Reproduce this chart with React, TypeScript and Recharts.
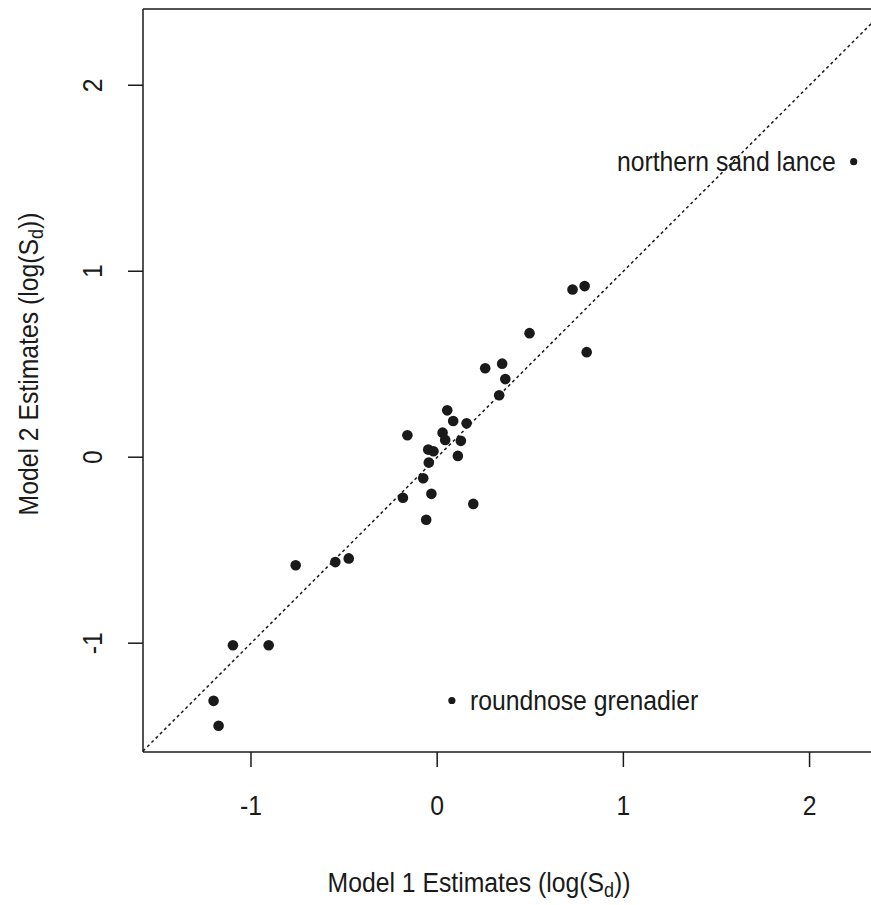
import { ScatterChart, Scatter, XAxis, YAxis, ReferenceLine, Label } from 'recharts';

// Model 1 vs Model 2 estimates, log(Sd)
const model1 = [
  0.727, 0.792, 0.496, 0.803, 0.258, 0.349, 0.366, 0.333, 0.054, 0.086, 0.158, -0.16,
  0.029, 0.043, 0.127, -0.048, -0.02, 0.111, -0.045, -0.075, -0.184, -0.031, 0.194, -0.059,
  -0.76, -0.547, -0.475, -1.097, -0.905, -1.201, -1.174,
];
const model2 = [
  0.902, 0.92, 0.667, 0.565, 0.478, 0.503, 0.42, 0.333, 0.252, 0.195, 0.182, 0.118,
  0.132, 0.093, 0.088, 0.041, 0.032, 0.007, -0.029, -0.113, -0.218, -0.197, -0.251, -0.336,
  -0.581, -0.564, -0.544, -1.011, -1.011, -1.31, -1.444,
];

const labeledNames = ['northern sand lance', 'roundnose grenadier'];
const labeledModel1 = [2.237, 0.079];
const labeledModel2 = [1.589, -1.308];

const xTicks = [-1, 0, 1, 2];
const yTicks = [-1, 0, 1, 2];
const X_MIN = -1.58;
const X_MAX = 2.33;
const Y_MIN = -1.585;
const Y_MAX = 2.41;

const FONT = "'Liberation Sans', Arial, Helvetica, sans-serif";
const INK = '#1a1a1a';
const SQUEEZE = 0.9; // the scanned text is a bit narrower than Helvetica

const points = model1.map((x, i) => ({ x, y: model2[i] }));
const labeled = labeledNames.map((name, i) => ({ name, x: labeledModel1[i], y: labeledModel2[i] }));

const Dot = (props: any) => <circle cx={props.cx} cy={props.cy} r={5.3} fill={INK} />;

const LabeledDot = (props: any) => {
  const { cx, cy, payload } = props;
  const left = payload.x > 1;
  const tx = left ? cx - 18 : cx + 18;
  return (
    <g>
      <circle cx={cx} cy={cy} r={3.6} fill={INK} />
      <g transform={`translate(${tx}, ${cy}) scale(${SQUEEZE}, 1)`}>
        <text x={0} y={0} dy="0.35em" textAnchor={left ? 'end' : 'start'} fontFamily={FONT} fontSize={27.5} fill={INK}>
          {payload.name}
        </text>
      </g>
    </g>
  );
};

const XTick = (props: any) => (
  <g transform={`translate(${props.x}, 805) scale(${SQUEEZE}, 1)`}>
    <text x={0} y={0} dy="0.35em" textAnchor="middle" fontFamily={FONT} fontSize={27.5} fill={INK}>
      {props.payload.value}
    </text>
  </g>
);

const YTick = (props: any) => (
  <g transform={`translate(92, ${props.y}) rotate(-90) scale(${SQUEEZE}, 1)`}>
    <text x={0} y={0} dy="0.35em" textAnchor="middle" fontFamily={FONT} fontSize={27.5} fill={INK}>
      {props.payload.value}
    </text>
  </g>
);

const AxisTitle = ({ n }: { n: number }) => (
  <text x={0} y={0} dy="0.35em" textAnchor="middle" fontFamily={FONT} fontSize={27.5} fill={INK}>
    {`Model ${n} Estimates (log(S`}
    <tspan dy="5" fontSize={20}>d</tspan>
    <tspan dy="-5">))</tspan>
  </text>
);

export default function App() {
  return (
    <div style={{ position: 'absolute', left: 0, top: 0, background: '#fff' }}>
      <ScatterChart width={871} height={905} margin={{ top: 9, right: 0, bottom: 0, left: 0 }}>
        <XAxis
          type="number"
          dataKey="x"
          domain={[X_MIN, X_MAX]}
          ticks={xTicks}
          allowDataOverflow
          height={153}
          stroke={INK}
          strokeWidth={1.5}
          tickSize={15}
          tick={<XTick />}
        >
          <Label
            content={() => (
              <g transform={`translate(479, 882) scale(${SQUEEZE}, 1)`}>
                <AxisTitle n={1} />
              </g>
            )}
          />
        </XAxis>
        <YAxis
          type="number"
          dataKey="y"
          domain={[Y_MIN, Y_MAX]}
          ticks={yTicks}
          allowDataOverflow
          width={143}
          stroke={INK}
          strokeWidth={1.5}
          tickSize={15}
          tick={<YTick />}
        >
          <Label
            content={() => (
              <g transform={`translate(28, 364) rotate(-90) scale(${SQUEEZE}, 1)`}>
                <AxisTitle n={2} />
              </g>
            )}
          />
        </YAxis>
        <ReferenceLine y={Y_MAX} stroke={INK} strokeWidth={1.5} />
        <ReferenceLine
          segment={[
            { x: X_MIN, y: X_MIN },
            { x: X_MAX, y: X_MAX },
          ]}
          stroke={INK}
          strokeWidth={1.5}
          strokeDasharray="3 3"
        />
        <Scatter data={points} shape={<Dot />} isAnimationActive={false} />
        <Scatter data={labeled} shape={<LabeledDot />} isAnimationActive={false} />
      </ScatterChart>
    </div>
  );
}
